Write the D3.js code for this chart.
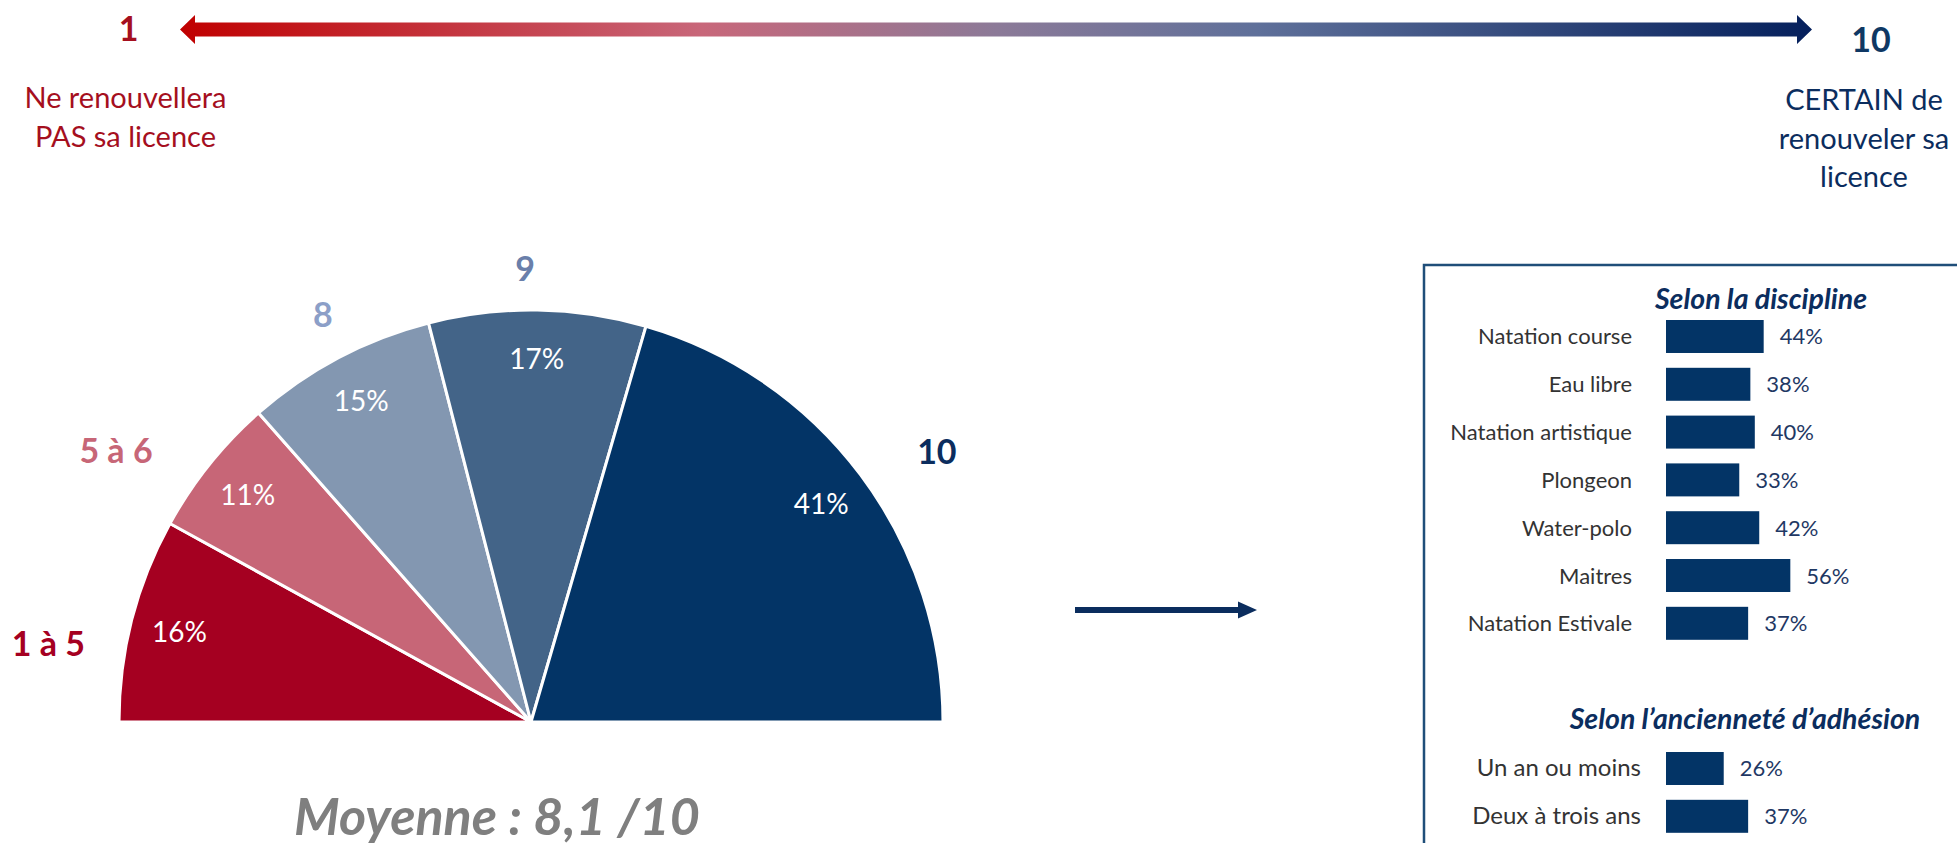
<!DOCTYPE html>
<html>
<head>
<meta charset="utf-8">
<script src="https://cdn.jsdelivr.net/npm/d3@7/dist/d3.min.js"></script>
<style>
  html, body { margin: 0; padding: 0; background: #ffffff; }
  svg { display: block; font-family: Lato, "Open Sans", sans-serif; }
</style>
</head>
<body>
<svg id="chart" width="1957" height="843"></svg>
<script>
// ---------------- DATA ----------------
const pieCategories = ["1 à 5", "5 à 6", "8", "9", "10"];
const pieValues = [16, 11, 15, 17, 41];

const disciplineTitle = "Selon la discipline";
const disciplineCategories = ["Natation course", "Eau libre", "Natation artistique", "Plongeon", "Water-polo", "Maitres", "Natation Estivale"];
const disciplineValues = [44, 38, 40, 33, 42, 56, 37];

const seniorityTitle = "Selon l’ancienneté d’adhésion";
const seniorityCategories = ["Un an ou moins", "Deux à trois ans"];
const seniorityValues = [26, 37];

const scaleLowLabel = "1";
const scaleHighLabel = "10";
const scaleLowText = ["Ne renouvellera", "PAS sa licence"];
const scaleHighText = ["CERTAIN de", "renouveler sa", "licence"];
const meanText = "Moyenne : 8,1 /10";

// ---------------- STYLE / LAYOUT ----------------
const sliceColors = ["#A50021", "#C76677", "#8397B1", "#436488", "#033466"];
const labelColors = ["#A50021", "#C76677", "#8C9FC8", "#6A7FAA", "#0B2D5E"];
const navy = "#0B2D5E";
const darkRed = "#A50F1E";

const svg = d3.select("#chart");

// ---- Top gradient arrow ----
const defs = svg.append("defs");
const grad = defs.append("linearGradient")
  .attr("id", "scaleGrad").attr("gradientUnits", "userSpaceOnUse")
  .attr("x1", 180).attr("x2", 1812).attr("y1", 0).attr("y2", 0);
[[0, "#C00000"], [0.32, "#C8677A"], [0.5, "#8C7A98"], [0.66, "#5F709A"], [1, "#05205C"]]
  .forEach(([o, c]) => grad.append("stop").attr("offset", o).attr("stop-color", c));

const ay = 29.5, half = 7, headH = 14.5, headL = 15, ax0 = 180, ax1 = 1812;
const arrowPath = d3.path();
arrowPath.moveTo(ax0, ay);
arrowPath.lineTo(ax0 + headL, ay - headH);
arrowPath.lineTo(ax0 + headL, ay - half);
arrowPath.lineTo(ax1 - headL, ay - half);
arrowPath.lineTo(ax1 - headL, ay - headH);
arrowPath.lineTo(ax1, ay);
arrowPath.lineTo(ax1 - headL, ay + headH);
arrowPath.lineTo(ax1 - headL, ay + half);
arrowPath.lineTo(ax0 + headL, ay + half);
arrowPath.lineTo(ax0 + headL, ay + headH);
arrowPath.closePath();
svg.append("path").attr("d", arrowPath.toString()).attr("fill", "url(#scaleGrad)");

svg.append("text").attr("x", 128.5).attr("y", 41).attr("text-anchor", "middle")
  .attr("font-size", 34).attr("font-weight", 700).attr("fill", darkRed).text(scaleLowLabel);
svg.append("text").attr("x", 1871).attr("y", 52).attr("text-anchor", "middle")
  .attr("font-size", 34).attr("font-weight", 700).attr("fill", "#0F3864").text(scaleHighLabel);

svg.append("g").selectAll("text").data(scaleLowText).join("text")
  .attr("x", 125.5).attr("y", (d, i) => 108 + i * 39).attr("text-anchor", "middle")
  .attr("font-size", 29).attr("fill", darkRed).text(d => d);
svg.append("g").selectAll("text").data(scaleHighText).join("text")
  .attr("x", 1864).attr("y", (d, i) => 110 + i * 38.5).attr("text-anchor", "middle")
  .attr("font-size", 29).attr("fill", navy).text(d => d);

// ---- Half pie ----
const cx = 531, cy = 722, R = 412;
const pie = d3.pie().sort(null).startAngle(-Math.PI / 2).endAngle(Math.PI / 2);
const arcs = pie(pieValues);
const arc = d3.arc().innerRadius(0).outerRadius(R);
const inLabelArc = d3.arc().innerRadius(363).outerRadius(363);
const outLabelArc = d3.arc().innerRadius(460).outerRadius(460);

const gPie = svg.append("g").attr("transform", `translate(${cx},${cy})`);
gPie.selectAll("path").data(arcs).join("path")
  .attr("d", arc)
  .attr("fill", (d, i) => sliceColors[i])
  .attr("stroke", "#ffffff").attr("stroke-width", 3).attr("stroke-linejoin", "round");

gPie.selectAll("text.pct").data(arcs).join("text").attr("class", "pct")
  .attr("x", d => inLabelArc.centroid(d)[0])
  .attr("y", d => inLabelArc.centroid(d)[1] + 10)
  .attr("text-anchor", "middle").attr("font-size", 28).attr("fill", "#ffffff")
  .text(d => d.data + "%");

// manual nudges for outer category labels (layout only)
const outNudge = [[-37, 36], [-56, 17], [7, 0], [-13, 6.5], [38, 6]];
gPie.selectAll("text.cat").data(arcs).join("text").attr("class", "cat")
  .attr("x", (d, i) => outLabelArc.centroid(d)[0] + outNudge[i][0])
  .attr("y", (d, i) => outLabelArc.centroid(d)[1] + outNudge[i][1] + 12)
  .attr("text-anchor", "middle").attr("font-size", 34).attr("font-weight", 700)
  .attr("fill", (d, i) => labelColors[i])
  .text((d, i) => pieCategories[i]);

svg.append("text").attr("x", 497).attr("y", 835).attr("text-anchor", "middle")
  .attr("font-size", 52).attr("font-weight", 700).attr("font-style", "italic")
  .attr("fill", "#7F7F7F").text(meanText);

// ---- Middle arrow ----
const mp = d3.path();
mp.moveTo(1075, 607); mp.lineTo(1238, 607); mp.lineTo(1238, 601.5); mp.lineTo(1257, 610);
mp.lineTo(1238, 618.5); mp.lineTo(1238, 613); mp.lineTo(1075, 613); mp.closePath();
svg.append("path").attr("d", mp.toString()).attr("fill", navy);

// ---- Bar panel ----
svg.append("rect").attr("x", 1424).attr("y", 265).attr("width", 700).attr("height", 700)
  .attr("fill", "none").attr("stroke", "#1F4E79").attr("stroke-width", 2.5);

const x = d3.scaleLinear().domain([0, 100]).range([1666, 1888]);

function barGroup(title, titleX, titleY, cats, vals, y0, labelX, catSize) {
  const y = d3.scaleBand().domain(cats)
    .range([y0, y0 + (cats.length - 1) * 47.8 + 33]).paddingInner(0.31).paddingOuter(0);
  const g = svg.append("g");
  g.append("text").attr("x", titleX).attr("y", titleY).attr("text-anchor", "middle")
    .attr("font-size", 28.5).attr("font-weight", 700).attr("font-style", "italic")
    .attr("fill", navy).text(title);
  g.selectAll("rect").data(vals).join("rect")
    .attr("x", x(0)).attr("y", (d, i) => y(cats[i]))
    .attr("width", d => x(d) - x(0)).attr("height", y.bandwidth())
    .attr("fill", "#033466");
  g.selectAll("text.val").data(vals).join("text").attr("class", "val")
    .attr("x", d => x(d) + 16).attr("y", (d, i) => y(cats[i]) + y.bandwidth() / 2 + 8)
    .attr("font-size", 22).attr("fill", "#1F3864").text(d => d + "%");
  g.selectAll("text.cat").data(cats).join("text").attr("class", "cat")
    .attr("x", labelX).attr("y", d => y(d) + y.bandwidth() / 2 + 8)
    .attr("text-anchor", "end").attr("font-size", catSize).attr("fill", "#333333").text(d => d);
}
barGroup(disciplineTitle, 1761, 309, disciplineCategories, disciplineValues, 320, 1632, 22);
barGroup(seniorityTitle, 1745, 729, seniorityCategories, seniorityValues, 752, 1641, 24);
</script>
</body>
</html>
